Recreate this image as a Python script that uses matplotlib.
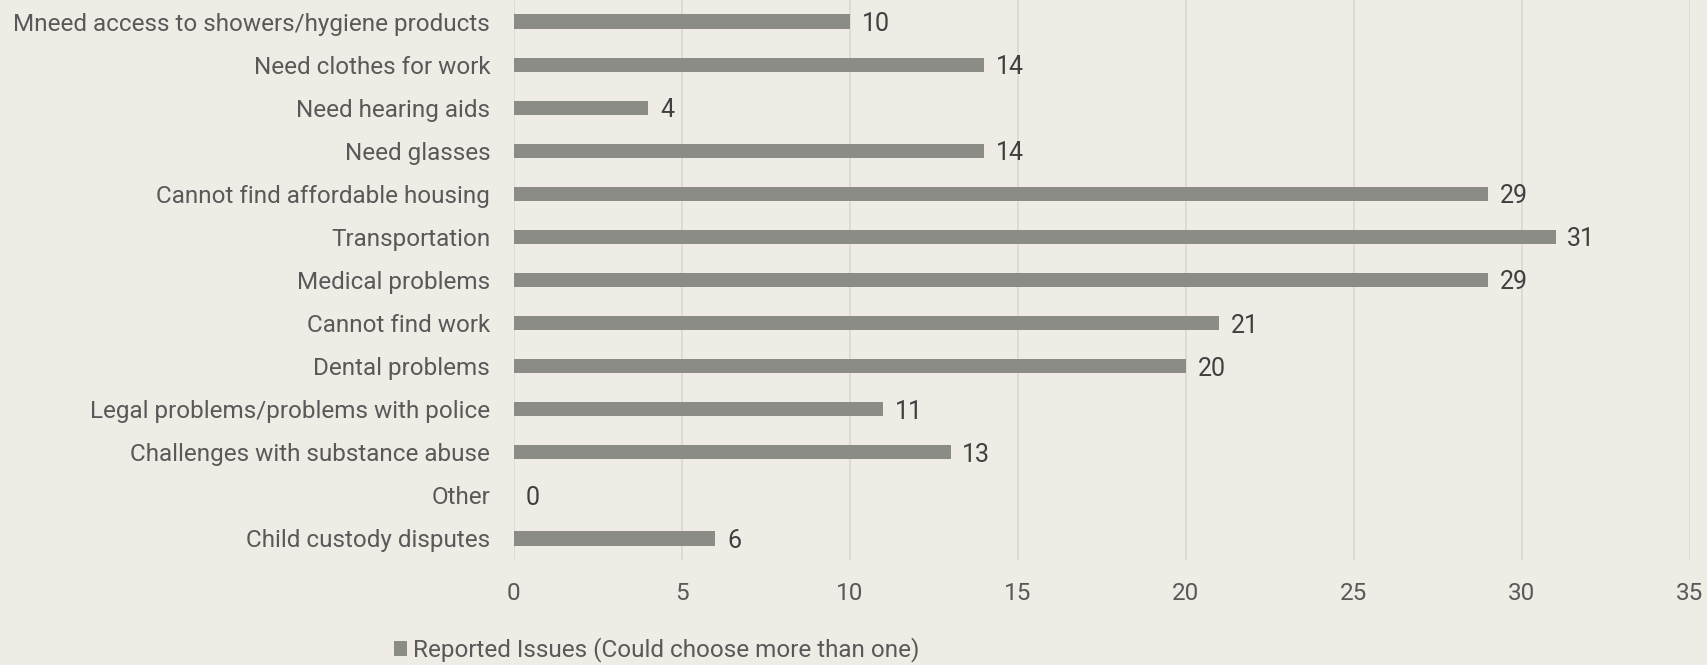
import matplotlib
matplotlib.use("Agg")
import matplotlib.pyplot as plt

# data (top to bottom)
categories = [
    "Mneed access to showers/hygiene products",
    "Need clothes for work",
    "Need hearing aids",
    "Need glasses",
    "Cannot find affordable housing",
    "Transportation",
    "Medical problems",
    "Cannot find work",
    "Dental problems",
    "Legal problems/problems with police",
    "Challenges with substance abuse",
    "Other",
    "Child custody disputes",
]
counts = [10, 14, 4, 14, 29, 31, 29, 21, 20, 11, 13, 0, 6]
series_name = "Reported Issues (Could choose more than one)"
xticks = [0, 5, 10, 15, 20, 25, 30, 35]

bg = "#EEECE5"
bar_color = "#8B8C85"
text_color = "#595959"

plt.rcParams["font.family"] = ["Roboto", "DejaVu Sans"]

fig = plt.figure(figsize=(17.07, 6.65), dpi=100, facecolor=bg)
ax = fig.add_axes([0.301, 0.158, 0.689, 0.842], facecolor=bg)

ypos = list(range(len(categories)))
bars = ax.barh(ypos, counts, height=0.33, color=bar_color, label=series_name, zorder=3)

ax.set_ylim(len(categories) - 0.5, -0.5)
ax.set_xlim(0, 35)
ax.set_xticks(xticks)
ax.set_yticks(ypos)
ax.set_yticklabels(categories)

ax.grid(axis="x", color="#D9D8D2", linewidth=1.2, zorder=0)
for s in ax.spines.values():
    s.set_visible(False)
ax.tick_params(axis="both", length=0, colors=text_color, labelsize=17.5)
ax.tick_params(axis="y", pad=17)
ax.tick_params(axis="x", pad=16)

for y, v in zip(ypos, counts):
    ax.text(v + 0.35, y, str(v), va="center_baseline", ha="left", fontsize=18, color="#404040")

leg = fig.legend(loc="lower left", bbox_to_anchor=(0.218, -0.029), frameon=False,
                 fontsize=17.5, handlelength=0.55, handleheight=0.55, handletextpad=0.25)
for t in leg.get_texts():
    t.set_color(text_color)

fig.savefig("out.png", dpi=100, facecolor=bg)
